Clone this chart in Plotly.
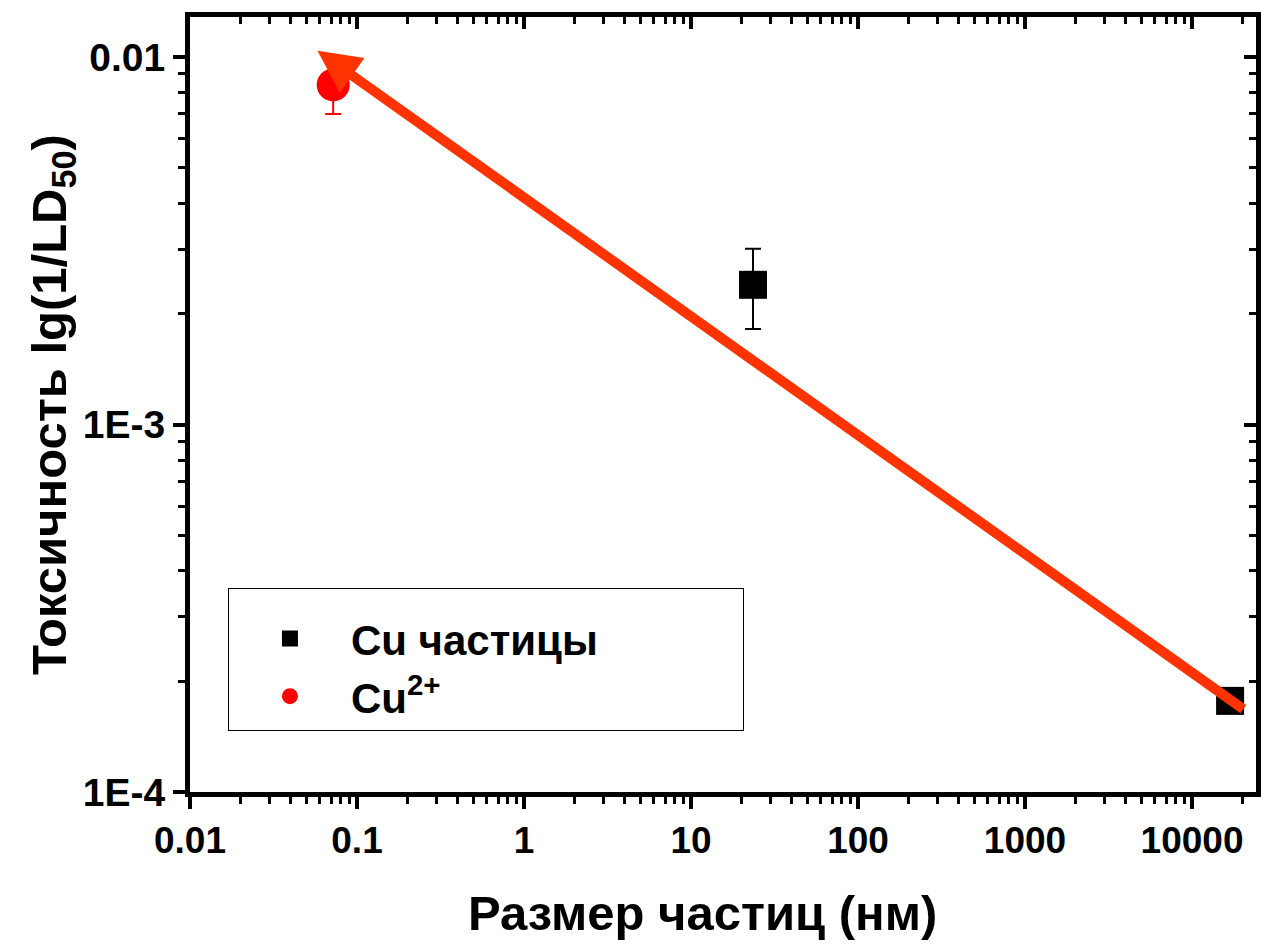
import math
import plotly.graph_objects as go

# Data
cu_size = [23.5, 16900]
cu_tox = [0.0024, 0.000177]
cu_err_plus = [0.00061, 0.0]
cu_err_minus = [0.00058, 0.0]

ion_size = [0.072]
ion_tox = [0.0084]
ion_err_plus = [0.0014]
ion_err_minus = [0.0014]

# fitted trend line: tail (large size) -> head (small size)
fit_x = [20700, 0.058]
fit_y = [0.000167, 0.0104]

x_ticks = [0.01, 0.1, 1, 10, 100, 1000, 10000]
x_tick_text = ["0.01", "0.1", "1", "10", "100", "1000", "10000"]
y_ticks = [1e-4, 1e-3, 1e-2]
y_tick_text = ["1E-4", "1E-3", "0.01"]

FONT = "Liberation Sans, Arial, sans-serif"
RED_LINE = "#FF3300"
PAD = "&nbsp;" * 12

fig = go.Figure()

fig.add_trace(go.Scatter(
    x=cu_size, y=cu_tox, mode="markers", name="<b>Cu частицы</b>" + PAD,
    marker=dict(symbol="square", size=28, color="black"),
    error_y=dict(type="data", symmetric=False, array=cu_err_plus,
                 arrayminus=cu_err_minus, color="black", thickness=2, width=8)))

fig.add_trace(go.Scatter(
    x=ion_size, y=ion_tox, mode="markers", name="<b>Cu<sup>2+</sup></b>",
    marker=dict(symbol="circle", size=33, color="#FF0000"),
    error_y=dict(type="data", symmetric=False, array=ion_err_plus,
                 arrayminus=ion_err_minus, color="#FF0000", thickness=2, width=8)))

# trend arrow (drawn in data coordinates via the axes)
fig.add_annotation(
    x=math.log10(fit_x[1]), y=math.log10(fit_y[1]),
    ax=math.log10(fit_x[0]), ay=math.log10(fit_y[0]),
    xref="x", yref="y", axref="x", ayref="y",
    showarrow=True, arrowhead=2, arrowsize=0.85, arrowwidth=10,
    arrowcolor=RED_LINE, text="", standoff=0, startstandoff=0)

# invisible trace for mirrored inward-tick axes
fig.add_trace(go.Scatter(x=[1], y=[1e-3], xaxis="x2", yaxis="y2", mode="markers",
                         marker=dict(opacity=0), showlegend=False, hoverinfo="skip"))

xr = [-2, 4.383]
yr = [-4, -1.891]

common = dict(type="log", showgrid=False, zeroline=False, showline=True,
              linecolor="black", linewidth=5, tickcolor="black", tickwidth=4)

fig.update_layout(
    width=1261, height=947,
    margin=dict(l=190, r=5, t=17, b=155),
    paper_bgcolor="white", plot_bgcolor="white",
    font=dict(family=FONT, color="black"),
    xaxis=dict(**common, range=xr, ticks="outside", ticklen=12,
               tickvals=x_ticks, ticktext=["<b>%s</b>" % t for t in x_tick_text],
               tickfont=dict(size=37, family=FONT),
               minor=dict(ticks="outside", ticklen=7, tickwidth=3, dtick="D1", tickcolor="black"),
               title=dict(text="<b>Размер частиц (нм)</b>&nbsp;&nbsp;&nbsp;", font=dict(size=49), standoff=37)),
    yaxis=dict(**common, range=yr, ticks="outside", ticklen=12,
               tickvals=y_ticks, ticktext=["<b>%s</b>" % t for t in y_tick_text],
               tickfont=dict(size=39, family=FONT),
               minor=dict(ticks="outside", ticklen=7, tickwidth=3, dtick="D1", tickcolor="black"),
               title=dict(text="<b>Токсичность lg(1/LD<sub>50</sub>)</b>", font=dict(size=49), standoff=0)),
    xaxis2=dict(**common, range=xr, overlaying="x", side="top", anchor="y2",
                ticks="inside", ticklen=12, tickvals=x_ticks, showticklabels=False,
                minor=dict(ticks="inside", ticklen=7, tickwidth=3, dtick="D1", tickcolor="black")),
    yaxis2=dict(**common, range=yr, overlaying="y", side="right", anchor="x2",
                ticks="inside", ticklen=12, tickvals=y_ticks, showticklabels=False,
                minor=dict(ticks="inside", ticklen=7, tickwidth=3, dtick="D1", tickcolor="black")),
    legend=dict(x=0.0356, y=0.263, xanchor="left", yanchor="top",
                bordercolor="black", borderwidth=1, bgcolor="white",
                font=dict(size=42, family=FONT), itemwidth=112,
                title=dict(text="&nbsp;", font=dict(size=12)),
                tracegroupgap=0),
)

fig.write_html("out.html")
